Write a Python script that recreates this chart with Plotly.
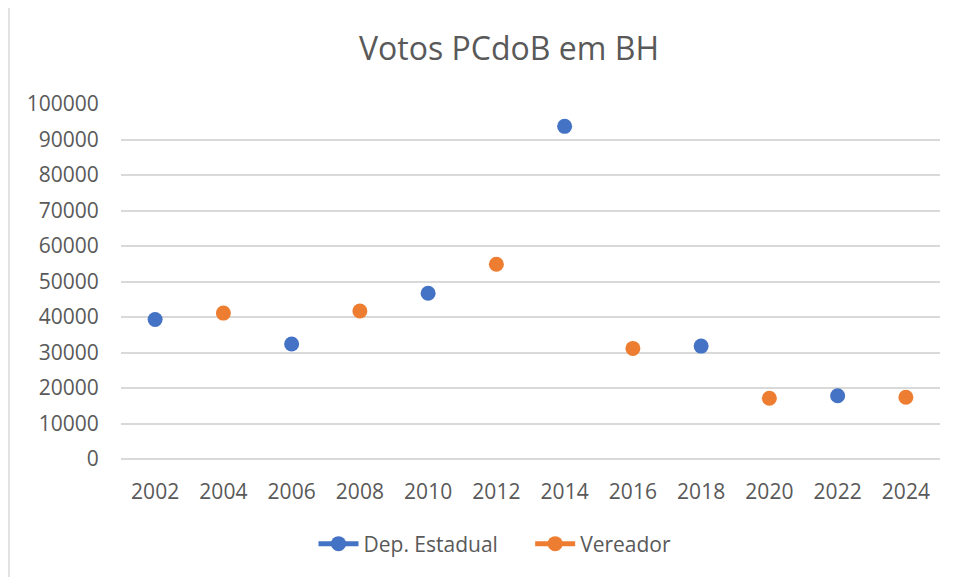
import plotly.graph_objects as go

years = ["2002", "2004", "2006", "2008", "2010", "2012", "2014", "2016", "2018", "2020", "2022", "2024"]
dep_estadual = [39300, None, 32400, None, 46700, None, 93700, None, 31800, None, 17800, None]
vereador = [None, 41100, None, 41700, None, 54850, None, 31150, None, 17100, None, 17400]
y_ticks = [0, 10000, 20000, 30000, 40000, 50000, 60000, 70000, 80000, 90000, 100000]

W, H = 956, 577
OX, OY = 7, 7  # page offset of the figure
# desired plot area in page pixels
PL, PR, PT, PB = 120, 939, 103, 458
L, T = PL - OX, PT - OY
R, B = W - (PR - OX), H - (PB - OY)
pw, ph = PR - PL, PB - PT

def px_x(p):
    return (p - PL) / pw

def px_y(p):
    return (PB - p) / ph

FONT = "Open Sans"
GRAY = "#595959"
NB = "\u00a0"

fig = go.Figure()
fig.add_trace(go.Scatter(
    x=years, y=dep_estadual, name="Dep. Estadual" + NB * 5, mode="lines+markers",
    connectgaps=False,
    line=dict(color="#4472C4", width=5),
    marker=dict(color="#4472C4", size=15),
))
fig.add_trace(go.Scatter(
    x=years, y=vereador, name="Vereador", mode="lines+markers",
    connectgaps=False,
    line=dict(color="#ED7D31", width=5),
    marker=dict(color="#ED7D31", size=15),
))

fig.update_layout(
    width=W, height=H,
    margin=dict(l=L, r=R, t=T, b=B),
    paper_bgcolor="white", plot_bgcolor="white",
    font=dict(family=FONT, color=GRAY, size=21),
    title=dict(text="Votos PCdoB em BH", x=px_x(508), xref="paper", xanchor="center",
               y=1 - (48 - OY) / H, yanchor="middle", font=dict(size=32, color=GRAY, family=FONT)),
    showlegend=True,
    legend=dict(orientation="h", x=px_x(494), xanchor="center", y=px_y(543), yanchor="middle",
                font=dict(size=21, color=GRAY, family=FONT), itemwidth=40),
    xaxis=dict(type="category", categoryorder="array", categoryarray=years,
               range=[-0.5, 11.5], showgrid=False, showline=False, zeroline=False,
               ticks="outside", ticklen=14, tickcolor="rgba(0,0,0,0)",
               tickfont=dict(size=21, color=GRAY, family=FONT)),
    yaxis=dict(range=[0, 100000], tickvals=y_ticks, ticktext=[str(v) for v in y_ticks],
               showgrid=True, gridcolor="#D9D9D9", gridwidth=1.5, zeroline=True,
               zerolinecolor="#D9D9D9", zerolinewidth=1.5, showline=False,
               ticks="outside", ticklen=17, tickcolor="rgba(0,0,0,0)",
               tickfont=dict(size=21, color=GRAY, family=FONT)),
    shapes=[dict(type="rect", xref="paper", yref="paper",
                 x0=px_x(8), x1=px_x(1000), y0=px_y(650), y1=px_y(4.5),
                 line=dict(color="#D9D9D9", width=1.5), fillcolor="rgba(0,0,0,0)", layer="below")],
)

fig.write_html("out.html")
